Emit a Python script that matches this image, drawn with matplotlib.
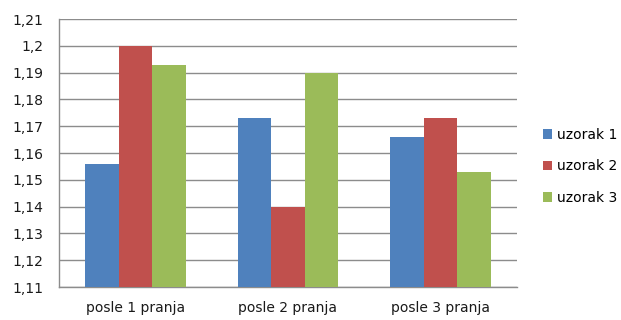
import numpy as np
import matplotlib.pyplot as plt
from matplotlib.ticker import MultipleLocator, FuncFormatter

categories = ['posle 1 pranja', 'posle 2 pranja', 'posle 3 pranja']
series = ['uzorak 1', 'uzorak 2', 'uzorak 3']
uzorak1 = [1.156, 1.173, 1.166]
uzorak2 = [1.200, 1.140, 1.173]
uzorak3 = [1.193, 1.190, 1.153]
colors = ['#4F81BD', '#C0504D', '#9BBB59']

fig = plt.figure(figsize=(6.21, 3.2), dpi=100)
ax = fig.add_axes([0.095, 0.103, 0.7375, 0.8375])

x = np.arange(len(categories))
w = 0.22
base = 1.11
for i, (vals, c, name) in enumerate(zip([uzorak1, uzorak2, uzorak3], colors, series)):
    ax.bar(x + (i - 1) * w, np.array(vals) - base, w, bottom=base,
           color=c, label=name, zorder=3)

ax.set_xlim(-0.5, 2.5)
ax.set_ylim(1.11, 1.21)
ax.yaxis.set_major_locator(MultipleLocator(0.01))
ax.yaxis.set_major_formatter(FuncFormatter(
    lambda v, p: ('%.2f' % v).rstrip('0').replace('.', ',')))
ax.set_xticks(x)
ax.set_xticklabels(categories)
ax.grid(axis='y', color='#8c8c8c', linewidth=1, zorder=0)
ax.tick_params(axis='both', length=0, labelsize=10, colors='#1a1a1a')
ax.tick_params(axis='y', pad=11.5)
ax.tick_params(axis='x', pad=10)
for s in ['top', 'right']:
    ax.spines[s].set_visible(False)
for s in ['left', 'bottom']:
    ax.spines[s].set_color('#8c8c8c')
    ax.spines[s].set_linewidth(1)

fig.legend(loc='center left', bbox_to_anchor=(0.865, 0.48), frameon=False,
           fontsize=10, handlelength=0.67, handleheight=0.7,
           handletextpad=0.36, labelspacing=1.27, borderaxespad=0)

fig.savefig('out.png', dpi=100)
